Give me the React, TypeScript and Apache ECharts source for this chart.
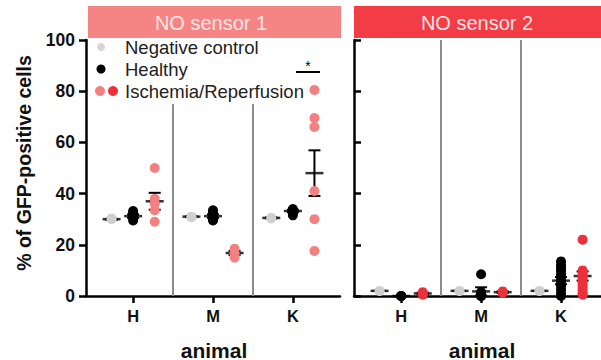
import React, { useEffect, useRef } from 'react';
import * as echarts from 'echarts';

// ---- data ----
const categories = ['H', 'M', 'K'];
const yTicks = [0, 20, 40, 60, 80, 100];

// NO sensor 1
const s1Negative = [[30, 30.3], [31, 30.8], [30.5, 30.3]];
const s1Healthy = [[29.5, 30.5, 31.5, 32.5, 33.2], [29.5, 30.5, 31.5, 32.5, 33.5], [31.5, 32.5, 33.5, 34]];
const s1IR = [[50, 38, 36, 33.5, 29], [18.5, 17, 16, 15], [80.5, 69.5, 66, 41, 30, 17.6]];
const s1NegMean = [30, 31, 30.5];
const s1NegSem = [0.2, 0.2, 0.2];
const s1HealthyMean = [31.2, 31.2, 33.2];
const s1HealthySem = [0.7, 0.7, 0.5];
const s1IRMean = [37, 16.8, 48];
const s1IRSem = [3.3, 0.8, 8.9];

// NO sensor 2
const s2Negative = [[2, 2], [2, 2], [2, 2]];
const s2Healthy = [[0, 0, 0], [8.5, 1.5, 0.5, 0, 0], [13.5, 12, 11, 10, 8.5, 7, 5.5, 4, 2.5, 1, 0]];
const s2IR = [[0.5, 1, 1.5], [1.2, 1.8], [22, 10, 9, 8, 7, 6, 5, 4, 3, 2, 1, 0.5]];
const s2NegMean = [2, 2, 2];
const s2NegSem = [0, 0, 0];
const s2HealthyMean = [0, 1.8, 6];
const s2HealthySem = [0, 1.6, 1.4];
const s2IRMean = [1, 1.5, 7.8];
const s2IRSem = [0.3, 0.3, 1.8];

// ---- styling ----
const FONT = 'Arial, "Liberation Sans", Helvetica, sans-serif';
const GRAY = '#cfcfcf';
const BLACK = '#000000';
const PINK = '#f28080';
const RED = '#ee303b';
const OFFSETS = [-0.27, 0, 0.27];

function points(groups: number[][], off: number) {
  const out: number[][] = [];
  groups.forEach((vals, i) => vals.forEach((v) => out.push([i + 1 + off, v])));
  return out;
}
function meanPts(means: number[], off: number) {
  return means.map((m, i) => [i + 1 + off, m]);
}
function errPts(means: number[], sems: number[], off: number) {
  return means.map((m, i) => [i + 1 + off, m - sems[i], m + sems[i]]);
}

function errorRender(params: any, api: any) {
  const x = api.value(0);
  const lo = api.value(1);
  const hi = api.value(2);
  const top = api.coord([x, hi]);
  const bot = api.coord([x, lo]);
  const hw = 6;
  const st = { stroke: '#000', lineWidth: 2 };
  return {
    type: 'group',
    children: [
      { type: 'line', shape: { x1: top[0], y1: top[1], x2: bot[0], y2: bot[1] }, style: st },
      { type: 'line', shape: { x1: top[0] - hw, y1: top[1], x2: top[0] + hw, y2: top[1] }, style: st },
      { type: 'line', shape: { x1: bot[0] - hw, y1: bot[1], x2: bot[0] + hw, y2: bot[1] }, style: st },
    ],
  };
}

function panelSeries(
  gi: number,
  neg: number[][], healthy: number[][], ir: number[][],
  negM: number[], negS: number[], hM: number[], hS: number[], irM: number[], irS: number[],
  irColor: string, dividerTop: number
) {
  const base = { xAxisIndex: gi, yAxisIndex: gi };
  const dot = (data: number[][], color: string) => ({
    ...base, type: 'scatter', data, symbolSize: 10, itemStyle: { color, opacity: 1 }, z: 5, silent: true,
  });
  const meanLine = (data: number[][]) => ({
    ...base, type: 'scatter', data, symbol: 'rect', symbolSize: [18, 2.5], itemStyle: { color: '#000' }, z: 3, silent: true,
  });
  const err = (data: number[][]) => ({
    ...base, type: 'custom', data, renderItem: errorRender, encode: { x: 0, y: [1, 2] }, z: 3, silent: true,
  });
  return [
    {
      ...base, type: 'custom', data: [], renderItem: () => null, silent: true,
      markLine: {
        silent: true, symbol: 'none', label: { show: false },
        lineStyle: { color: '#8c8c8c', width: 2, type: 'solid' },
        data: [
          [{ coord: [1.5, 0] }, { coord: [1.5, dividerTop] }],
          [{ coord: [2.5, 0] }, { coord: [2.5, dividerTop] }],
        ],
      },
      z: 1,
    },
    err(errPts(negM, negS, OFFSETS[0])),
    err(errPts(hM, hS, OFFSETS[1])),
    err(errPts(irM, irS, OFFSETS[2])),
    meanLine(meanPts(negM, OFFSETS[0])),
    meanLine(meanPts(hM, OFFSETS[1])),
    meanLine(meanPts(irM, OFFSETS[2])),
    dot(points(neg, OFFSETS[0]), GRAY),
    dot(points(healthy, OFFSETS[1]), BLACK),
    dot(points(ir, OFFSETS[2]), irColor),
  ];
}

export default function App() {
  const ref = useRef<HTMLDivElement>(null);
  useEffect(() => {
    if (!ref.current) return;
    const chart = echarts.init(ref.current, null, { renderer: 'svg' });
    const axisLine = { show: true, lineStyle: { color: '#000', width: 2.5 } };
    const xAxisCommon = {
      type: 'value',
      axisLine,
      splitLine: { show: false },
      axisTick: { show: true, customValues: [1, 2, 3], length: 7, lineStyle: { color: '#000', width: 2.5 } },
      axisLabel: {
        show: true, customValues: [1, 2, 3],
        formatter: (v: number) => categories[Math.round(v) - 1] ?? '',
        color: '#111', fontFamily: FONT, fontWeight: 'bold', fontSize: 16.5, margin: 11,
      },
    };
    const yAxisCommon = {
      type: 'value', min: 0, max: 100, interval: 20,
      axisLine,
      splitLine: { show: false },
    };
    const text = (x: number, y: number, t: string, style: any, extra: any = {}) => ({
      type: 'text', x, y, ...extra,
      style: { text: t, fontFamily: FONT, ...style },
    });
    const option: any = {
      animation: false,
      grid: [
        { left: 86, right: 261, top: 40, bottom: 64 },
        { left: 354, right: 0, top: 40, bottom: 64 },
      ],
      xAxis: [
        { ...xAxisCommon, gridIndex: 0, min: 0.41, max: 3.59 },
        { ...xAxisCommon, gridIndex: 1, min: 0.41, max: 3.5 },
      ],
      yAxis: [
        {
          ...yAxisCommon, gridIndex: 0,
          axisTick: { show: true, length: 7, lineStyle: { color: '#000', width: 2.5 } },
          axisLabel: { show: true, color: '#111', fontFamily: FONT, fontWeight: 'bold', fontSize: 17.5, margin: 11,
            formatter: (v: number) => (yTicks.includes(v) ? String(v) : '') },
        },
        {
          ...yAxisCommon, gridIndex: 1,
          axisTick: { show: true, inside: true, length: 7, lineStyle: { color: '#000', width: 2.5 } },
          axisLabel: { show: false },
        },
      ],
      series: [
        ...panelSeries(0, s1Negative, s1Healthy, s1IR, s1NegMean, s1NegSem, s1HealthyMean, s1HealthySem, s1IRMean, s1IRSem, PINK, 75),
        ...panelSeries(1, s2Negative, s2Healthy, s2IR, s2NegMean, s2NegSem, s2HealthyMean, s2HealthySem, s2IRMean, s2IRSem, RED, 100),
      ],
      graphic: [
        { type: 'rect', shape: { x: 88, y: 6, width: 253, height: 32 }, style: { fill: '#f58585' }, silent: true },
        { type: 'rect', shape: { x: 354, y: 6, width: 247, height: 32 }, style: { fill: '#f23c46' }, silent: true },
        text(211, 23, 'NO sensor 1', { fill: '#fde4e4', fontSize: 20, align: 'center', verticalAlign: 'middle' }),
        text(477, 23, 'NO sensor 2', { fill: '#fde4e4', fontSize: 20, align: 'center', verticalAlign: 'middle' }),
        // legend
        { type: 'circle', shape: { cx: 101, cy: 47, r: 4 }, style: { fill: '#d6d6d6' }, silent: true },
        { type: 'circle', shape: { cx: 101, cy: 69, r: 4.5 }, style: { fill: BLACK }, silent: true },
        { type: 'circle', shape: { cx: 100, cy: 91, r: 5 }, style: { fill: PINK }, silent: true },
        { type: 'circle', shape: { cx: 113, cy: 91, r: 5 }, style: { fill: RED }, silent: true },
        text(125, 47, 'Negative control', { fill: '#222', fontSize: 18.5, verticalAlign: 'middle' }),
        text(125, 69, 'Healthy', { fill: '#222', fontSize: 18.5, verticalAlign: 'middle' }),
        text(125, 91, 'Ischemia/Reperfusion', { fill: '#222', fontSize: 18.5, verticalAlign: 'middle' }),
        // significance
        { type: 'line', shape: { x1: 296, y1: 72, x2: 320, y2: 72 }, style: { stroke: '#000', lineWidth: 2 }, silent: true },
        text(308, 66, '*', { fill: '#000', fontSize: 14, align: 'center', verticalAlign: 'middle' }),
        // axis titles
        text(24, 163, '% of GFP-positive cells', { fill: '#111', fontSize: 19.5, fontWeight: 'bold', align: 'center', verticalAlign: 'middle' }, { rotation: Math.PI / 2 }),
        text(214, 350, 'animal', { fill: '#111', fontSize: 21, fontWeight: 'bold', align: 'center', verticalAlign: 'middle' }),
        text(482, 350, 'animal', { fill: '#111', fontSize: 21, fontWeight: 'bold', align: 'center', verticalAlign: 'middle' }),
      ],
    };
    chart.setOption(option);
    return () => chart.dispose();
  }, []);
  return <div ref={ref} style={{ position: 'fixed', left: 0, top: 0, width: 601, height: 360, background: '#fff' }} />;
}
